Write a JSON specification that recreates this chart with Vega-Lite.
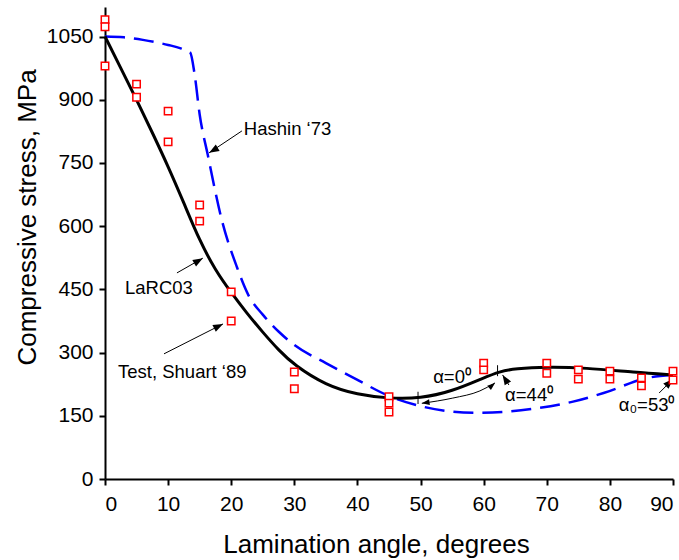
{
  "$schema": "https://vega.github.io/schema/vega-lite/v6.json",
  "width": 568,
  "height": 472,
  "autosize": "none",
  "padding": {"left": 105, "top": 7, "right": 6, "bottom": 81},
  "background": "white",
  "config": {
    "view": {"stroke": null},
    "font": "Liberation Sans",
    "text": {"font": "Liberation Sans"}
  },
  "datasets": {
    "larc": [
      {"a": 0, "s": 1050}, {"a": 2.5, "s": 975}, {"a": 5, "s": 900}, {"a": 7.5, "s": 822},
      {"a": 10, "s": 742}, {"a": 12.5, "s": 655}, {"a": 15, "s": 565}, {"a": 17.5, "s": 495},
      {"a": 20, "s": 442}, {"a": 22.5, "s": 393}, {"a": 25, "s": 348}, {"a": 27.5, "s": 306},
      {"a": 30, "s": 270}, {"a": 35, "s": 222}, {"a": 40, "s": 200}, {"a": 45, "s": 191},
      {"a": 50, "s": 191}, {"a": 55, "s": 208}, {"a": 60, "s": 240}, {"a": 62.5, "s": 255},
      {"a": 65, "s": 262}, {"a": 70, "s": 266}, {"a": 76, "s": 264}, {"a": 84, "s": 253},
      {"a": 90, "s": 247}
    ],
    "hashin": [
      {"a": 0, "s": 1050}, {"a": 3, "s": 1048}, {"a": 6, "s": 1042}, {"a": 10, "s": 1030},
      {"a": 12, "s": 1022}, {"a": 13.5, "s": 1012}, {"a": 14.2, "s": 960}, {"a": 15, "s": 865},
      {"a": 16.3, "s": 768}, {"a": 18.5, "s": 615}, {"a": 20.9, "s": 503}, {"a": 22.7, "s": 437},
      {"a": 25, "s": 390}, {"a": 27.5, "s": 350}, {"a": 30, "s": 318}, {"a": 35, "s": 275},
      {"a": 40, "s": 235}, {"a": 45, "s": 197}, {"a": 50, "s": 173}, {"a": 55, "s": 160},
      {"a": 59, "s": 157}, {"a": 63, "s": 159}, {"a": 68.5, "s": 168}, {"a": 74, "s": 183},
      {"a": 79, "s": 204}, {"a": 86, "s": 240}, {"a": 90, "s": 247}
    ],
    "tests": [
      {"a": 0, "s": 1090}, {"a": 0, "s": 1073}, {"a": 0, "s": 980},
      {"a": 5, "s": 937}, {"a": 5, "s": 906},
      {"a": 10, "s": 873}, {"a": 10, "s": 800},
      {"a": 15, "s": 650}, {"a": 15, "s": 612},
      {"a": 20, "s": 444}, {"a": 20, "s": 375},
      {"a": 30, "s": 254}, {"a": 30, "s": 214},
      {"a": 45, "s": 195}, {"a": 45, "s": 180}, {"a": 45, "s": 159},
      {"a": 60, "s": 275}, {"a": 60, "s": 259},
      {"a": 70, "s": 275}, {"a": 70, "s": 251},
      {"a": 75, "s": 259}, {"a": 75, "s": 237},
      {"a": 80, "s": 256}, {"a": 80, "s": 237},
      {"a": 85, "s": 240}, {"a": 85, "s": 221},
      {"a": 90, "s": 256}, {"a": 90, "s": 235}
    ],
    "arrows": [
      {"a": 21.7, "s": 826, "a2": 16.5, "s2": 774, "rot": 149},
      {"a": 11.4, "s": 489, "a2": 15.5, "s2": 524, "rot": -30},
      {"a": 9.35, "s": 297, "a2": 18.7, "s2": 368, "rot": -27},
      {"a": 64.0, "s": 223, "a2": 63.0, "s2": 247, "rot": -122},
      {"a": 87.8, "s": 204, "a2": 90.0, "s2": 237, "rot": -45}
    ],
    "thin": [
      {"a": 50.2, "s": 179.6}, {"a": 55.1, "s": 192}, {"a": 59.4, "s": 209}, {"a": 61.8, "s": 228}
    ],
    "thinheads": [
      {"a": 50.2, "s": 179.6, "rot": 172},
      {"a": 61.8, "s": 228, "rot": -40}
    ],
    "curveticks": [
      {"a": 49.6, "s": 178, "s2": 207},
      {"a": 62.2, "s": 244, "s2": 270}
    ],
    "labels": [
      {"a": 22.0, "s": 830, "t": "Hashin ‘73"},
      {"a": 3.17, "s": 453, "t": "LaRC03"},
      {"a": 2.06, "s": 254, "t": "Test, Shuart ‘89"},
      {"a": 52.0, "s": 242, "t": "α=0⁰"},
      {"a": 63.4, "s": 199, "t": "α=44⁰"},
      {"a": 81.4, "s": 176, "t": "α₀=53⁰"}
    ],
    "yticks": [
      {"s": 0}, {"s": 150}, {"s": 300}, {"s": 450}, {"s": 600}, {"s": 750}, {"s": 900}, {"s": 1050}
    ],
    "xticks": [
      {"a": 0}, {"a": 10}, {"a": 20}, {"a": 30}, {"a": 40}, {"a": 50}, {"a": 60}, {"a": 70}, {"a": 80}, {"a": 90}
    ]
  },
  "encoding": {
    "x": {
      "field": "a", "type": "quantitative",
      "scale": {"domain": [0, 90], "nice": false, "zero": false},
      "axis": {
        "title": "Lamination angle, degrees",
        "values": [0, 10, 20, 30, 40, 50, 60, 70, 80, 90],
        "format": "d",
        "grid": false,
        "domainColor": "black", "domainWidth": 2,
        "tickColor": "black", "tickWidth": 2, "tickSize": 6,
        "labelFontSize": 21, "labelColor": "black", "labelPadding": 8,
        "labelFont": "Liberation Sans",
        "titleFont": "Liberation Sans", "titleFontSize": 26, "titleFontWeight": "normal",
        "titleColor": "black", "titleX": 271, "titleY": 73, "titleBaseline": "alphabetic"
      }
    },
    "y": {
      "field": "s", "type": "quantitative",
      "scale": {"domain": [0, 1120], "nice": false, "zero": false},
      "axis": {
        "title": "Compressive stress, MPa",
        "values": [0, 150, 300, 450, 600, 750, 900, 1050],
        "format": "d",
        "grid": false,
        "domainColor": "black", "domainWidth": 2,
        "tickColor": "black", "tickWidth": 2, "tickSize": 6,
        "labelFontSize": 21, "labelColor": "black", "labelPadding": 6,
        "labelFont": "Liberation Sans",
        "titleFont": "Liberation Sans", "titleFontSize": 26, "titleFontWeight": "normal",
        "titleColor": "black", "titleX": -70, "titleY": 210, "titleBaseline": "alphabetic",
        "titleAngle": -90, "titleAlign": "center"
      }
    }
  },
  "layer": [
    {
      "data": {"name": "hashin"},
      "mark": {"type": "line", "color": "#0000ff", "strokeWidth": 2.5, "strokeDash": [20, 9], "interpolate": "monotone"}
    },
    {
      "data": {"name": "larc"},
      "mark": {"type": "line", "color": "black", "strokeWidth": 3, "interpolate": "basis"}
    },
    {
      "data": {"name": "thin"},
      "mark": {"type": "line", "color": "black", "strokeWidth": 1, "interpolate": "monotone"}
    },
    {
      "data": {"name": "curveticks"},
      "mark": {"type": "rule", "color": "black", "strokeWidth": 1},
      "encoding": {"y2": {"field": "s2"}}
    },
    {
      "data": {"name": "arrows"},
      "mark": {"type": "rule", "color": "black", "strokeWidth": 1},
      "encoding": {"x2": {"field": "a2"}, "y2": {"field": "s2"}}
    },
    {
      "data": {"name": "arrows"},
      "mark": {"type": "point", "shape": "M0,0L-2,-0.75L-2,0.75Z", "size": 100, "filled": true, "color": "black", "opacity": 1},
      "encoding": {
        "x": {"field": "a2", "type": "quantitative"},
        "y": {"field": "s2", "type": "quantitative"},
        "angle": {"field": "rot", "type": "quantitative", "scale": null}
      }
    },
    {
      "data": {"name": "thinheads"},
      "mark": {"type": "point", "shape": "M0,0L-2,-0.75L-2,0.75Z", "size": 60, "filled": true, "color": "black", "opacity": 1},
      "encoding": {
        "angle": {"field": "rot", "type": "quantitative", "scale": null}
      }
    },
    {
      "data": {"name": "yticks"},
      "mark": {"type": "rule", "color": "black", "strokeWidth": 2},
      "encoding": {"x": {"datum": 0}, "x2": {"datum": 0.95}}
    },
    {
      "data": {"name": "xticks"},
      "mark": {"type": "rule", "color": "black", "strokeWidth": 2},
      "encoding": {"y": {"datum": 0}, "y2": {"datum": 14}}
    },
    {
      "data": {"name": "tests"},
      "mark": {"type": "point", "shape": "square", "size": 55, "stroke": "#ff0000", "fill": "white", "filled": true, "strokeWidth": 1.5, "opacity": 1}
    },
    {
      "data": {"name": "labels"},
      "mark": {"type": "text", "align": "left", "baseline": "middle", "fontSize": 18.5, "color": "black", "font": "Liberation Sans"},
      "encoding": {"text": {"field": "t", "type": "nominal"}}
    }
  ]
}
